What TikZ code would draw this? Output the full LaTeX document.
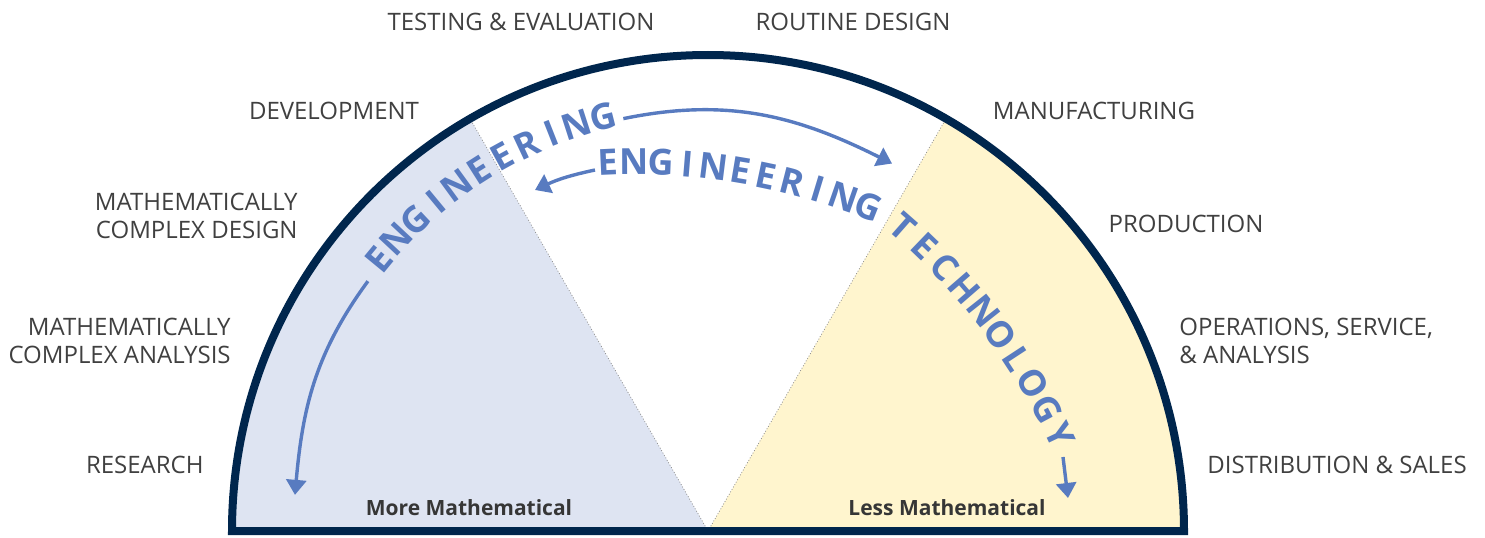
\documentclass[tikz,border=0pt]{standalone}
\usepackage{fontspec}
\setmainfont{Open Sans}
\usetikzlibrary{arrows.meta}
\definecolor{rimnavy}{RGB}{0,38,77}
\definecolor{mathblue}{RGB}{222,228,242}
\definecolor{techyellow}{RGB}{255,245,206}
\definecolor{flowblue}{RGB}{88,123,192}
\definecolor{labelgray}{RGB}{64,64,64}

\begin{document}
\begin{tikzpicture}[
    x=0.5pt, y=0.5pt,
    rim/.style={
      draw=rimnavy,
      line width=4pt,
      line join=miter},
    divider/.style={
      draw=black!45,
      densely dotted,
      line width=0.4pt},
    stage/.style={
      font=\fontsize{12}{14}\selectfont,
      text=labelgray,
      inner sep=0pt},
    mathlabel/.style={
      font=\fontsize{10.5}{12}\selectfont\bfseries,
      text=labelgray!85!black,
      inner sep=0pt},
    arcletter/.style={
      font=\fontsize{18}{18}\selectfont\bfseries,
      text=flowblue,
      inner sep=0pt},
    flow/.style={
      draw=flowblue,
      line width=1.7pt,
      -{Triangle[length=7.5pt,width=10pt]}},
  ]
  \useasboundingbox (0,0) rectangle (1485,537);
  \coordinate (hub) at (708,6);
  \coordinate (engarc) at (636,-253);
  \coordinate (techarc) at (476,-176);

  \fill[mathblue] (hub) -- ([shift={(180:476)}]hub)
    arc[start angle=180, end angle=120, radius=476] -- cycle;
  \fill[techyellow] (hub) -- ([shift={(60:476)}]hub)
    arc[start angle=60, end angle=0, radius=476] -- cycle;
  \draw[divider] (hub) -- ([shift={(120:476)}]hub);
  \draw[divider] (hub) -- ([shift={(60:476)}]hub);
  \draw[rim] ([shift={(180:476)}]hub)
    arc[start angle=180, end angle=0, radius=476] -- cycle;

  \foreach \ch [count=\i] in {E,N,G,I,N,E,E,R,I,N,G} {
    \pgfmathsetmacro\ang{140.5-3.62*(\i-1)}
    \node[arcletter, rotate=\ang-90] (outer-\i) at ([shift={(\ang:427)}]hub) {\ch};
  }
  \foreach \ch [count=\i] in {E,N,G,I,N,E,E,R,I,N,G} {
    \pgfmathsetmacro\ang{92.6-2.43*(\i-1)}
    \node[arcletter, rotate=\ang-90] (inner-\i) at ([shift={(\ang:628)}]engarc) {\ch};
  }
  \foreach \ch [count=\i] in {T,E,C,H,N,O,L,O,G,Y} {
    \pgfmathsetmacro\ang{48.7-2.58*(\i-1)}
    \node[arcletter, rotate=\ang-90] (tech-\i) at ([shift={(\ang:647)}]techarc) {\ch};
  }

  \coordinate (up-start) at ([shift={(101.6:421)}]hub);
  \coordinate (up-end) at ([shift={(63.4:411)}]hub);
  \coordinate (down-start) at ([shift={(143.7:422)}]hub);
  \coordinate (down-end) at ([shift={(175:414.6)}]hub);
  \coordinate (back-start) at (595,367);
  \coordinate (back-end) at (535,347);
  \coordinate (tech-start) at (1063,80);
  \coordinate (tech-end) at (1068,39);
  \draw[flow] (up-start) to[out=11.6, in=153.4] (up-end);
  \draw[flow] (down-start) to[out=233.7, in=85] (down-end);
  \draw[flow] (back-start) to[out=192, in=25] (back-end);
  \draw[flow] (tech-start) -- (tech-end);

  \node[stage, anchor=base] (testing) at (521,506) {TESTING \& EVALUATION};
  \node[stage, anchor=base] (routine) at (853,506) {ROUTINE DESIGN};
  \node[stage, anchor=base] (development) at (334,417) {DEVELOPMENT};
  \node[stage, anchor=base] (manufacturing) at (1094,417) {MANUFACTURING};
  \node[stage, anchor=east, align=right] (complexdesign) at (298,321)
    {MATHEMATICALLY\\COMPLEX DESIGN};
  \node[stage, anchor=base] (production) at (1186,305) {PRODUCTION};
  \node[stage, anchor=east, align=right] (complexanalysis) at (231,196)
    {MATHEMATICALLY\\COMPLEX ANALYSIS};
  \node[stage, anchor=west, align=left] (operations) at (1179,196)
    {OPERATIONS, SERVICE,\\\& ANALYSIS};
  \node[stage, anchor=base east] (research) at (204,64) {RESEARCH};
  \node[stage, anchor=base west] (distribution) at (1207,64) {DISTRIBUTION \& SALES};
  \node[mathlabel, anchor=base] (more) at (469,22) {More Mathematical};
  \node[mathlabel, anchor=base] (less) at (947,22) {Less Mathematical};
\end{tikzpicture}
\end{document}
